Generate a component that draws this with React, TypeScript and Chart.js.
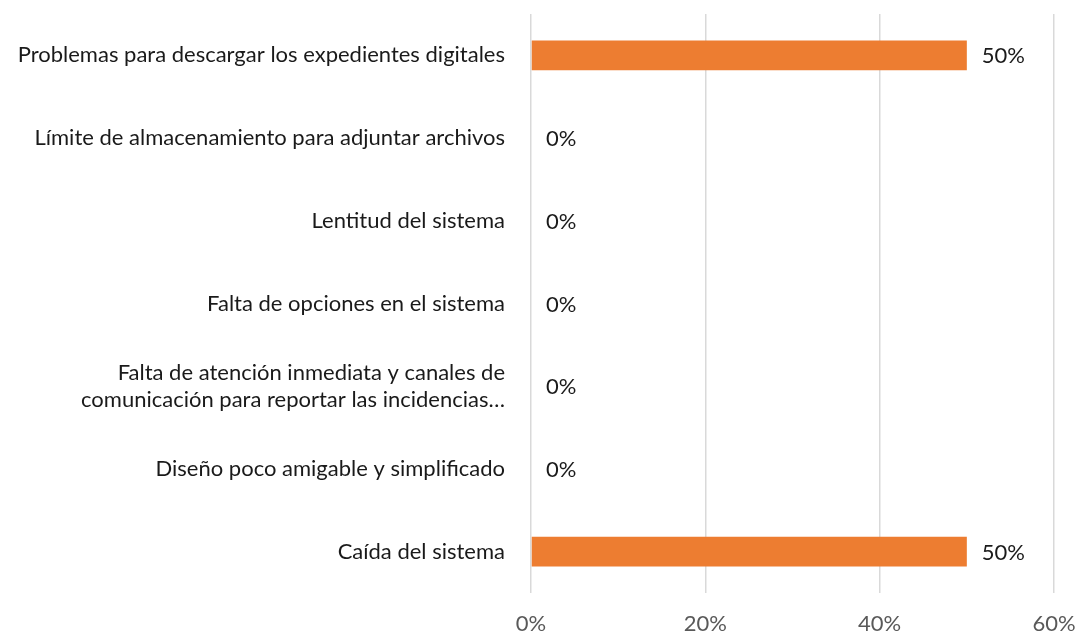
import React, { useEffect, useRef } from "react";
import { Chart, registerables } from "chart.js";

Chart.register(...registerables);

const categories: (string | string[])[] = [
  "Problemas para descargar los expedientes digitales",
  "Límite de almacenamiento para adjuntar archivos",
  "Lentitud del sistema",
  "Falta de opciones en el sistema",
  ["Falta de atención inmediata y canales de", "comunicación para reportar las incidencias…"],
  "Diseño poco amigable y simplificado",
  "Caída del sistema",
];
const values = [50, 0, 0, 0, 0, 0, 50];
const xTicks = [0, 20, 40, 60];

const FONT = "Lato, 'Noto Sans', sans-serif";
const FS = 22;

const dataLabels = {
  id: "dataLabels",
  afterDatasetsDraw(chart: any) {
    const ctx = chart.ctx;
    const meta = chart.getDatasetMeta(0);
    ctx.save();
    ctx.font = `${FS}px ${FONT}`;
    ctx.fillStyle = "#1a1a1a";
    ctx.textAlign = "left";
    ctx.textBaseline = "middle";
    meta.data.forEach((bar: any, i: number) => {
      const v = chart.data.datasets[0].data[i];
      ctx.fillText(`${v}%`, bar.x + 15, bar.y + 1);
    });
    ctx.restore();
  },
};

export default function App() {
  const ref = useRef<HTMLCanvasElement>(null);
  useEffect(() => {
    document.body.style.margin = "0";
    const chart = new Chart(ref.current!, {
      type: "bar",
      data: {
        labels: categories,
        datasets: [
          {
            data: values,
            backgroundColor: "#ED7D31",
            categoryPercentage: 1,
            barPercentage: 0.36,
          },
        ],
      },
      plugins: [dataLabels],
      options: {
        indexAxis: "y",
        animation: false,
        responsive: false,
        layout: { padding: { top: 14, right: 25, bottom: 0, left: 0 } },
        plugins: { legend: { display: false }, tooltip: { enabled: false } },
        scales: {
          x: {
            min: 0,
            max: 60,
            afterBuildTicks(axis: any) {
              axis.ticks = xTicks.map((v) => ({ value: v }));
            },
            afterFit(axis: any) {
              axis.height = 41;
              axis.paddingLeft = 0;
              axis.paddingRight = 0;
            },
            grid: { color: "#D9D9D9", lineWidth: 1.5, drawTicks: false },
            border: { display: false },
            ticks: {
              padding: 18,
              color: "#595959",
              font: { family: FONT, size: FS },
              callback: (v: any) => `${v}%`,
            },
          },
          y: {
            afterFit(axis: any) {
              axis.width = 531;
              axis.paddingTop = 0;
              axis.paddingBottom = 0;
            },
            grid: { display: false, drawTicks: false },
            border: { display: false },
            ticks: {
              padding: 26,
              color: "#1a1a1a",
              font: { family: FONT, size: FS, lineHeight: 1.23 },
            },
          },
        },
      },
    });
    return () => chart.destroy();
  }, []);
  return (
    <div style={{ width: 1079, height: 634 }}>
      <canvas ref={ref} width={1079} height={634} style={{ display: "block" }} />
    </div>
  );
}
